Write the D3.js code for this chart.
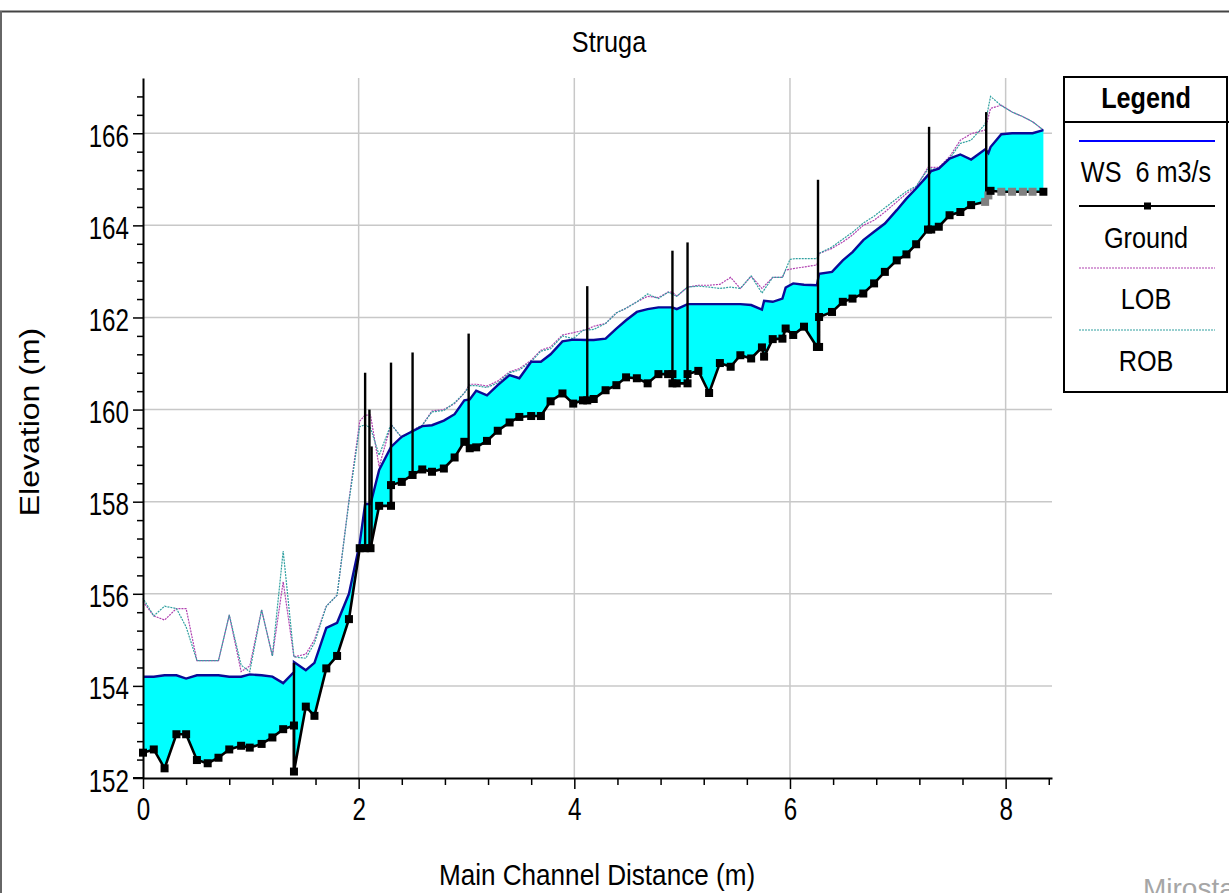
<!DOCTYPE html>
<html>
<head>
<meta charset="utf-8">
<script src="https://cdn.jsdelivr.net/npm/d3@7"></script>
<style>
  html, body { margin: 0; padding: 0; background: #fff; }
  svg { display: block; font-family: "Liberation Sans", Arial, sans-serif; }
  text { white-space: pre; }
</style>
</head>
<body>
<svg id="chart" width="1229" height="893"></svg>
<script>
// chart data (distance m, elevation m)
const ground = [[0.00,152.55],[0.10,152.62],[0.20,152.21],[0.31,152.95],[0.40,152.95],[0.50,152.39],[0.60,152.32],[0.70,152.44],[0.80,152.62],[0.91,152.70],[0.99,152.66],[1.10,152.74],[1.20,152.88],[1.30,153.06],[1.40,153.14],[1.40,152.14],[1.51,153.55],[1.59,153.35],[1.70,154.38],[1.80,154.65],[1.91,155.45],[2.01,156.99],[2.06,156.99],[2.11,156.99],[2.19,157.91],[2.30,157.91],[2.30,158.36],[2.40,158.43],[2.50,158.58],[2.59,158.70],[2.68,158.65],[2.79,158.72],[2.89,158.96],[2.98,159.30],[3.03,159.16],[3.09,159.18],[3.19,159.32],[3.29,159.54],[3.40,159.72],[3.49,159.84],[3.60,159.86],[3.69,159.86],[3.78,160.18],[3.89,160.35],[3.99,160.13],[4.08,160.20],[4.12,160.20],[4.18,160.23],[4.29,160.42],[4.39,160.53],[4.48,160.70],[4.58,160.68],[4.68,160.57],[4.78,160.77],[4.87,160.77],[4.91,160.77],[4.91,160.57],[4.95,160.57],[5.05,160.57],[5.05,160.77],[5.15,160.84],[5.25,160.36],[5.35,161.01],[5.45,160.93],[5.54,161.18],[5.64,161.11],[5.74,161.35],[5.76,161.15],[5.84,161.53],[5.93,161.54],[5.96,161.76],[6.03,161.62],[6.13,161.80],[6.25,161.36],[6.27,161.36],[6.27,162.01],[6.39,162.12],[6.49,162.34],[6.58,162.41],[6.68,162.52],[6.78,162.74],[6.88,162.99],[6.99,163.24],[7.08,163.37],[7.17,163.59],[7.28,163.91],[7.31,163.91],[7.38,163.97],[7.48,164.22],[7.58,164.29],[7.68,164.44],[7.81,164.51],[7.84,164.65],[7.86,164.75],[7.96,164.73],[8.06,164.73],[8.16,164.73],[8.25,164.73],[8.35,164.73]];
// stations drawn with grey markers
const groundGray = [7.81, 7.84, 7.96, 8.06, 8.16, 8.25];

const ws = [[0.00,154.20],[0.10,154.20],[0.20,154.23],[0.31,154.23],[0.40,154.16],[0.50,154.23],[0.60,154.23],[0.70,154.23],[0.80,154.20],[0.91,154.20],[0.99,154.25],[1.10,154.23],[1.20,154.20],[1.30,154.06],[1.40,154.30],[1.40,154.52],[1.51,154.34],[1.59,154.50],[1.70,155.26],[1.80,155.37],[1.91,156.00],[2.01,157.10],[2.06,157.95],[2.11,157.95],[2.19,158.69],[2.30,159.19],[2.40,159.41],[2.50,159.53],[2.59,159.64],[2.68,159.66],[2.79,159.76],[2.89,159.90],[2.98,160.20],[3.03,160.22],[3.09,160.41],[3.19,160.31],[3.29,160.53],[3.40,160.75],[3.49,160.68],[3.60,161.04],[3.69,161.04],[3.78,161.20],[3.89,161.48],[3.99,161.52],[4.12,161.51],[4.18,161.51],[4.29,161.54],[4.39,161.76],[4.48,161.94],[4.58,162.12],[4.68,162.18],[4.78,162.22],[4.91,162.22],[4.95,162.18],[5.05,162.29],[5.15,162.29],[5.25,162.29],[5.35,162.29],[5.45,162.29],[5.54,162.29],[5.64,162.27],[5.74,162.17],[5.76,162.36],[5.84,162.34],[5.93,162.41],[5.96,162.65],[6.03,162.74],[6.13,162.71],[6.25,162.70],[6.27,162.95],[6.39,162.99],[6.49,163.24],[6.58,163.42],[6.68,163.68],[6.78,163.86],[6.88,164.04],[6.99,164.33],[7.08,164.58],[7.17,164.80],[7.28,165.09],[7.31,165.18],[7.38,165.23],[7.48,165.45],[7.58,165.54],[7.68,165.43],[7.81,165.65],[7.84,165.57],[7.86,165.70],[7.96,165.98],[8.06,166.00],[8.16,166.00],[8.25,166.00],[8.35,166.07]];

const lob = [[0.00,155.83],[0.10,155.52],[0.20,155.43],[0.31,155.68],[0.40,155.68],[0.50,154.55],[0.60,154.55],[0.70,154.55],[0.80,155.54],[0.91,154.31],[0.99,154.43],[1.10,155.65],[1.20,154.65],[1.30,156.26],[1.40,154.63],[1.51,154.69],[1.59,155.00],[1.70,155.73],[1.80,155.97],[1.91,158.03],[2.01,159.75],[2.06,159.88],[2.11,159.88],[2.19,158.76],[2.30,159.68],[2.40,159.39],[2.50,159.55],[2.59,159.66],[2.68,159.97],[2.79,160.00],[2.89,160.13],[2.98,160.36],[3.03,160.55],[3.09,160.55],[3.19,160.51],[3.29,160.62],[3.40,160.82],[3.49,160.89],[3.60,161.07],[3.69,161.29],[3.78,161.36],[3.89,161.62],[3.99,161.67],[4.12,161.74],[4.18,161.81],[4.29,161.87],[4.39,162.10],[4.48,162.20],[4.58,162.34],[4.68,162.46],[4.78,162.43],[4.87,162.55],[4.91,162.55],[4.95,162.46],[5.05,162.66],[5.15,162.70],[5.25,162.70],[5.35,162.72],[5.45,162.87],[5.54,162.63],[5.64,162.90],[5.74,162.63],[5.84,162.87],[5.93,162.87],[5.96,163.03],[6.03,163.06],[6.25,163.14],[6.27,163.39],[6.39,163.50],[6.49,163.64],[6.58,163.79],[6.68,164.00],[6.78,164.11],[6.88,164.29],[6.99,164.51],[7.08,164.69],[7.17,164.83],[7.28,165.26],[7.38,165.26],[7.48,165.49],[7.58,165.85],[7.68,165.99],[7.81,166.07],[7.86,166.54],[7.96,166.61],[8.06,166.46],[8.16,166.36],[8.25,166.25],[8.35,166.07]];

const rob = [[0.00,155.90],[0.10,155.52],[0.20,155.73],[0.31,155.68],[0.40,155.28],[0.50,154.55],[0.60,154.55],[0.70,154.55],[0.80,155.54],[0.91,154.45],[0.99,154.31],[1.10,155.65],[1.20,154.65],[1.30,156.93],[1.40,154.63],[1.51,154.60],[1.59,154.93],[1.70,155.73],[1.80,155.97],[1.91,158.00],[2.01,159.63],[2.06,159.67],[2.11,159.60],[2.19,159.01],[2.30,159.68],[2.40,159.39],[2.50,159.55],[2.59,159.66],[2.68,159.95],[2.79,159.98],[2.89,160.15],[2.98,160.36],[3.03,160.52],[3.09,160.52],[3.19,160.48],[3.29,160.58],[3.40,160.80],[3.49,160.86],[3.60,161.04],[3.69,161.27],[3.78,161.32],[3.89,161.60],[3.99,161.54],[4.08,161.72],[4.18,161.74],[4.29,161.87],[4.39,162.10],[4.48,162.20],[4.58,162.34],[4.68,162.51],[4.78,162.41],[4.87,162.55],[4.95,162.46],[5.05,162.66],[5.15,162.68],[5.25,162.66],[5.35,162.63],[5.45,162.66],[5.54,162.63],[5.64,162.90],[5.74,162.53],[5.84,162.87],[5.93,162.87],[6.00,163.26],[6.05,163.28],[6.25,163.28],[6.27,163.39],[6.39,163.53],[6.49,163.70],[6.58,163.85],[6.68,164.05],[6.78,164.20],[6.88,164.38],[6.99,164.58],[7.08,164.74],[7.17,164.85],[7.28,165.22],[7.38,165.22],[7.48,165.45],[7.58,165.78],[7.68,165.85],[7.81,166.20],[7.86,166.80],[7.96,166.60],[8.06,166.46],[8.16,166.36],[8.25,166.25],[8.35,166.07]];

// vertical structure lines: station, base and top elevation
const structX    = [1.40, 2.06, 2.10, 2.12, 2.30, 2.50, 3.02, 4.12, 4.91, 5.05, 6.26, 7.29, 7.82];
const structBase = [152.14, 156.99, 156.99, 156.99, 157.91, 158.58, 159.20, 160.20, 160.57, 160.57, 161.36, 163.91, 164.50];
const structTop  = [154.50, 160.80, 160.00, 159.20, 161.02, 161.24, 161.65, 162.68, 163.45, 163.63, 164.99, 166.14, 166.46];

const xTicks = d3.range(0, 22).map(i => +(i * 0.4).toFixed(1));
const yTicks = d3.range(0, 38).map(i => +(152 + i * 0.4).toFixed(1));
const legendItems = ["WS  6 m3/s", "Ground", "LOB", "ROB"];

const svg = d3.select("#chart");
const margin = { left: 143, right: 177, top: 78, bottom: 115 };
const W = 1229, H = 893;

const x = d3.scaleLinear().domain([0, 8.43]).range([margin.left, W - margin.right]);
const y = d3.scaleLinear().domain([152, 167.2]).range([H - margin.bottom, margin.top]);

// outer frame
svg.append("line").attr("x1", 0).attr("x2", W).attr("y1", 11.5).attr("y2", 11.5)
  .attr("stroke", "#444").attr("stroke-width", 2);
svg.append("line").attr("x1", 1).attr("x2", 1).attr("y1", 11).attr("y2", H)
  .attr("stroke", "#666").attr("stroke-width", 2);

// grid
const grid = svg.append("g").attr("stroke", "#c8c8c8").attr("stroke-width", 1.5);
[2, 4, 6, 8].forEach(v => grid.append("line")
  .attr("x1", x(v)).attr("x2", x(v)).attr("y1", y(167.2)).attr("y2", y(152)));
[154, 156, 158, 160, 162, 164, 166].forEach(v => grid.append("line")
  .attr("x1", x(0)).attr("x2", x(8.43)).attr("y1", y(v)).attr("y2", y(v)));

const line = d3.line().x(d => x(d[0])).y(d => y(d[1]));

// water between WS and ground
svg.append("path")
  .attr("d", line(ws.concat(ground.slice().reverse())) + "Z")
  .attr("fill", "#00ffff");

// bank lines
svg.append("path").attr("d", line(lob)).attr("fill", "none")
  .attr("stroke", "#b040b0").attr("stroke-width", 1.2).attr("stroke-dasharray", "2,1");
svg.append("path").attr("d", line(rob)).attr("fill", "none")
  .attr("stroke", "#30a0a0").attr("stroke-width", 1.2).attr("stroke-dasharray", "2,1")
  .attr("stroke-dashoffset", 1);

// water surface
svg.append("path").attr("d", line(ws)).attr("fill", "none")
  .attr("stroke", "#0a0a96").attr("stroke-width", 2.4);

// structures
svg.append("g").selectAll("line").data(structX).join("line")
  .attr("x1", d => x(d)).attr("x2", d => x(d))
  .attr("y1", (d, i) => y(structBase[i])).attr("y2", (d, i) => y(structTop[i]))
  .attr("stroke", "#000").attr("stroke-width", 2.4);

// ground
svg.append("path").attr("d", line(ground)).attr("fill", "none")
  .attr("stroke", "#000").attr("stroke-width", 2.6);
svg.append("g").selectAll("rect").data(ground).join("rect")
  .attr("x", d => x(d[0]) - 4).attr("y", d => y(d[1]) - 4)
  .attr("width", 8).attr("height", 8)
  .attr("fill", d => groundGray.includes(d[0]) ? "#808080" : "#000");

// axes
const yAxis = svg.append("g").attr("transform", `translate(${x(0)},0)`)
  .call(d3.axisLeft(y).tickValues(yTicks).tickSizeOuter(0)
    .tickFormat(d => d % 2 === 0 ? d3.format("d")(d) : ""));
yAxis.select(".domain").attr("stroke-width", 2);
yAxis.selectAll(".tick line").attr("stroke-width", 1.5)
  .attr("x2", d => d % 2 === 0 ? -10 : -6);
yAxis.selectAll(".tick text")
  .attr("font-size", 31).attr("fill", "#000")
  .attr("x", -14 / 0.78).attr("dy", "0.42em")
  .attr("transform", "scale(0.78,1)");

const xAxis = svg.append("g").attr("transform", `translate(0,${y(152)})`)
  .call(d3.axisBottom(x).tickValues(xTicks).tickSizeOuter(0)
    .tickFormat(d => d % 2 === 0 ? d3.format("d")(d) : ""));
xAxis.select(".domain").attr("stroke-width", 2);
xAxis.selectAll(".tick line").attr("stroke-width", 1.5)
  .attr("y2", d => d % 2 === 0 ? 11 : 7);
xAxis.selectAll(".tick text")
  .attr("font-size", 31).attr("fill", "#000")
  .attr("y", 42).attr("dy", 0)
  .attr("transform", "scale(0.78,1)");
// extend x axis line under the left tick labels like the original
svg.append("line").attr("x1", x(0) - 10).attr("x2", x(0)).attr("y1", y(152)).attr("y2", y(152))
  .attr("stroke", "#000").attr("stroke-width", 2);

// titles
function label(txt, cx, cy, size, opts = {}) {
  const t = svg.append("text")
    .attr("transform", `translate(${cx},${cy}) scale(${opts.sx || 0.87},1)`)
    .attr("text-anchor", "middle").attr("font-size", size)
    .attr("fill", opts.fill || "#000").text(txt);
  if (opts.bold) t.attr("font-weight", "bold");
  return t;
}
label("Struga", 609, 52, 29);
label("Main Channel Distance (m)", 597, 885, 30);
svg.append("text")
  .attr("transform", "translate(39,422) rotate(-90) scale(1,0.87)")
  .attr("text-anchor", "middle").attr("font-size", 32).text("Elevation (m)");

// legend
const lg = svg.append("g");
lg.append("rect").attr("x", 1064).attr("y", 77).attr("width", 163).attr("height", 315)
  .attr("fill", "#fff").attr("stroke", "#000").attr("stroke-width", 2);
lg.append("line").attr("x1", 1064).attr("x2", 1229).attr("y1", 122).attr("y2", 122)
  .attr("stroke", "#000").attr("stroke-width", 2);
label("Legend", 1146, 108, 29, { bold: true });

const lgLineY = [141, 206, 268, 330];
const lgTextY = [182, 248, 309, 371];
const lgStroke = ["#0000ff", "#000", "#b040b0", "#30a0a0"];
legendItems.forEach((name, i) => {
  const l = lg.append("line").attr("x1", 1079).attr("x2", 1215)
    .attr("y1", lgLineY[i]).attr("y2", lgLineY[i])
    .attr("stroke", lgStroke[i]).attr("stroke-width", i < 2 ? 2 : 1.2);
  if (i >= 2) l.attr("stroke-dasharray", "2,1");
  label(name, 1146, lgTextY[i], 29);
});
lg.append("rect").attr("x", 1144).attr("y", lgLineY[1] - 3.5).attr("width", 7).attr("height", 7).attr("fill", "#000");

// watermark, partly off the page as in the source image
svg.append("text").attr("x", 1143).attr("y", 898).attr("font-size", 28)
  .attr("fill", "#a6a6a6").text("Mirosta");
</script>
</body>
</html>
